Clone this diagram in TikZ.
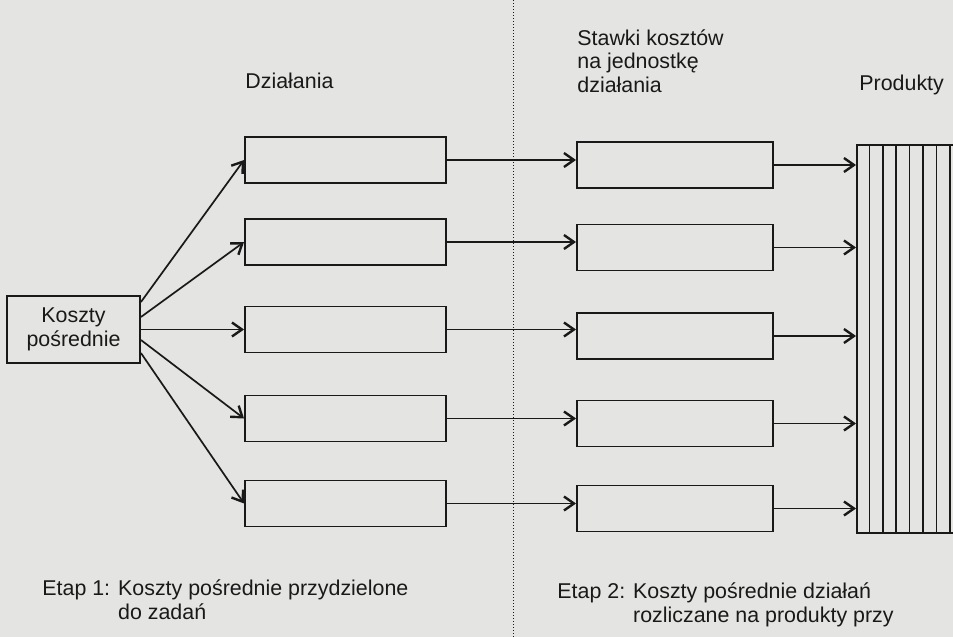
\documentclass[tikz,border=0pt]{standalone}
\usepackage{fontspec}
\setmainfont{Liberation Sans}
\usetikzlibrary{calc,arrows.meta}
\definecolor{scan}{RGB}{228,228,226}
\definecolor{ink}{RGB}{25,25,25}

\begin{document}
\begin{tikzpicture}[
x=0.5pt, y=-0.5pt,
every node/.style={font=\fontsize{10.7}{12}\selectfont, text=ink},
box/.style={draw=ink, line width=0.95pt, minimum width=100.5pt, minimum height=23pt, inner sep=0pt},
flow/.style={draw=ink, line width=0.85pt, -{Straight Barb[length=5pt,width=7pt,line width=1.2pt]}},
toptext/.style={anchor=base west, inner sep=0pt}
]

\useasboundingbox[fill=scan] (0,0) rectangle (953,637);
\clip (0,0) rectangle (953,637);

\coordinate (sepTop) at (513,0);
\coordinate (sepBot) at (513,637);
\draw[ink, densely dotted, line width=0.5pt] (sepTop) -- (sepBot);

\node[box, minimum width=66.5pt, minimum height=33.5pt, align=center] (kp) at (73.5,329.5) {Koszty\\pośrednie};

\node[box] (dz1) at (345.5,160) {};
\node[box] (dz2) at (345.5,242) {};
\node[box] (dz3) at (345.5,329.5) {};
\node[box] (dz4) at (345.5,418.5) {};
\node[box] (dz5) at (345.5,503.5) {};

\node[box, minimum width=98pt] (st1) at (675,165) {};
\node[box, minimum width=98pt] (st2) at (675,247.5) {};
\node[box, minimum width=98pt] (st3) at (675,336) {};
\node[box, minimum width=98pt] (st4) at (675,423.5) {};
\node[box, minimum width=98pt] (st5) at (675,508.5) {};

\node[draw=ink, line width=0.95pt, minimum width=60pt, minimum height=194pt, inner sep=0pt] (prod) at (917,339) {};
\foreach \i in {1,...,8}
  \draw[ink, line width=0.8pt] ($(prod.north west)+(13.4*\i,0)$) -- ($(prod.south west)+(13.4*\i,0)$);

\draw[flow] ($(kp.east)+(0,-27.5)$) -- (dz1.west);
\draw[flow] ($(kp.east)+(0,-12.5)$) -- (dz2.west);
\draw[flow] (kp.east) -- (dz3.west);
\draw[flow] ($(kp.east)+(0,10.5)$) -- (dz4.west);
\draw[flow] ($(kp.east)+(0,23.5)$) -- (dz5.west);

\draw[flow] (dz1.east) -- (dz1.east -| st1.west);
\draw[flow] (dz2.east) -- (dz2.east -| st2.west);
\draw[flow] (dz3.east) -- (dz3.east -| st3.west);
\draw[flow] (dz4.east) -- (dz4.east -| st4.west);
\draw[flow] (dz5.east) -- (dz5.east -| st5.west);

\draw[flow] (st1.east) -- (st1.east -| prod.west);
\draw[flow] (st2.east) -- (st2.east -| prod.west);
\draw[flow] (st3.east) -- (st3.east -| prod.west);
\draw[flow] (st4.east) -- (st4.east -| prod.west);
\draw[flow] (st5.east) -- (st5.east -| prod.west);

\node[toptext] (dzlab) at (245,88) {Działania};
\node[toptext] (stlab) at (577,45) {\begin{tabular}[t]{@{}l@{}}Stawki kosztów\\na jednostkę\\działania\end{tabular}};
\node[toptext] (prodlab) at (859,90) {Produkty};

\node[toptext] (etap1) at (42,595) {\begin{tabular}[t]{@{}l@{ }l@{}}Etap 1:&Koszty pośrednie przydzielone\\&do zadań\end{tabular}};
\node[toptext] (etap2) at (557,598) {\begin{tabular}[t]{@{}l@{ }l@{}}Etap 2:&Koszty pośrednie działań\\&rozliczane na produkty przy\end{tabular}};
\end{tikzpicture}
\end{document}
